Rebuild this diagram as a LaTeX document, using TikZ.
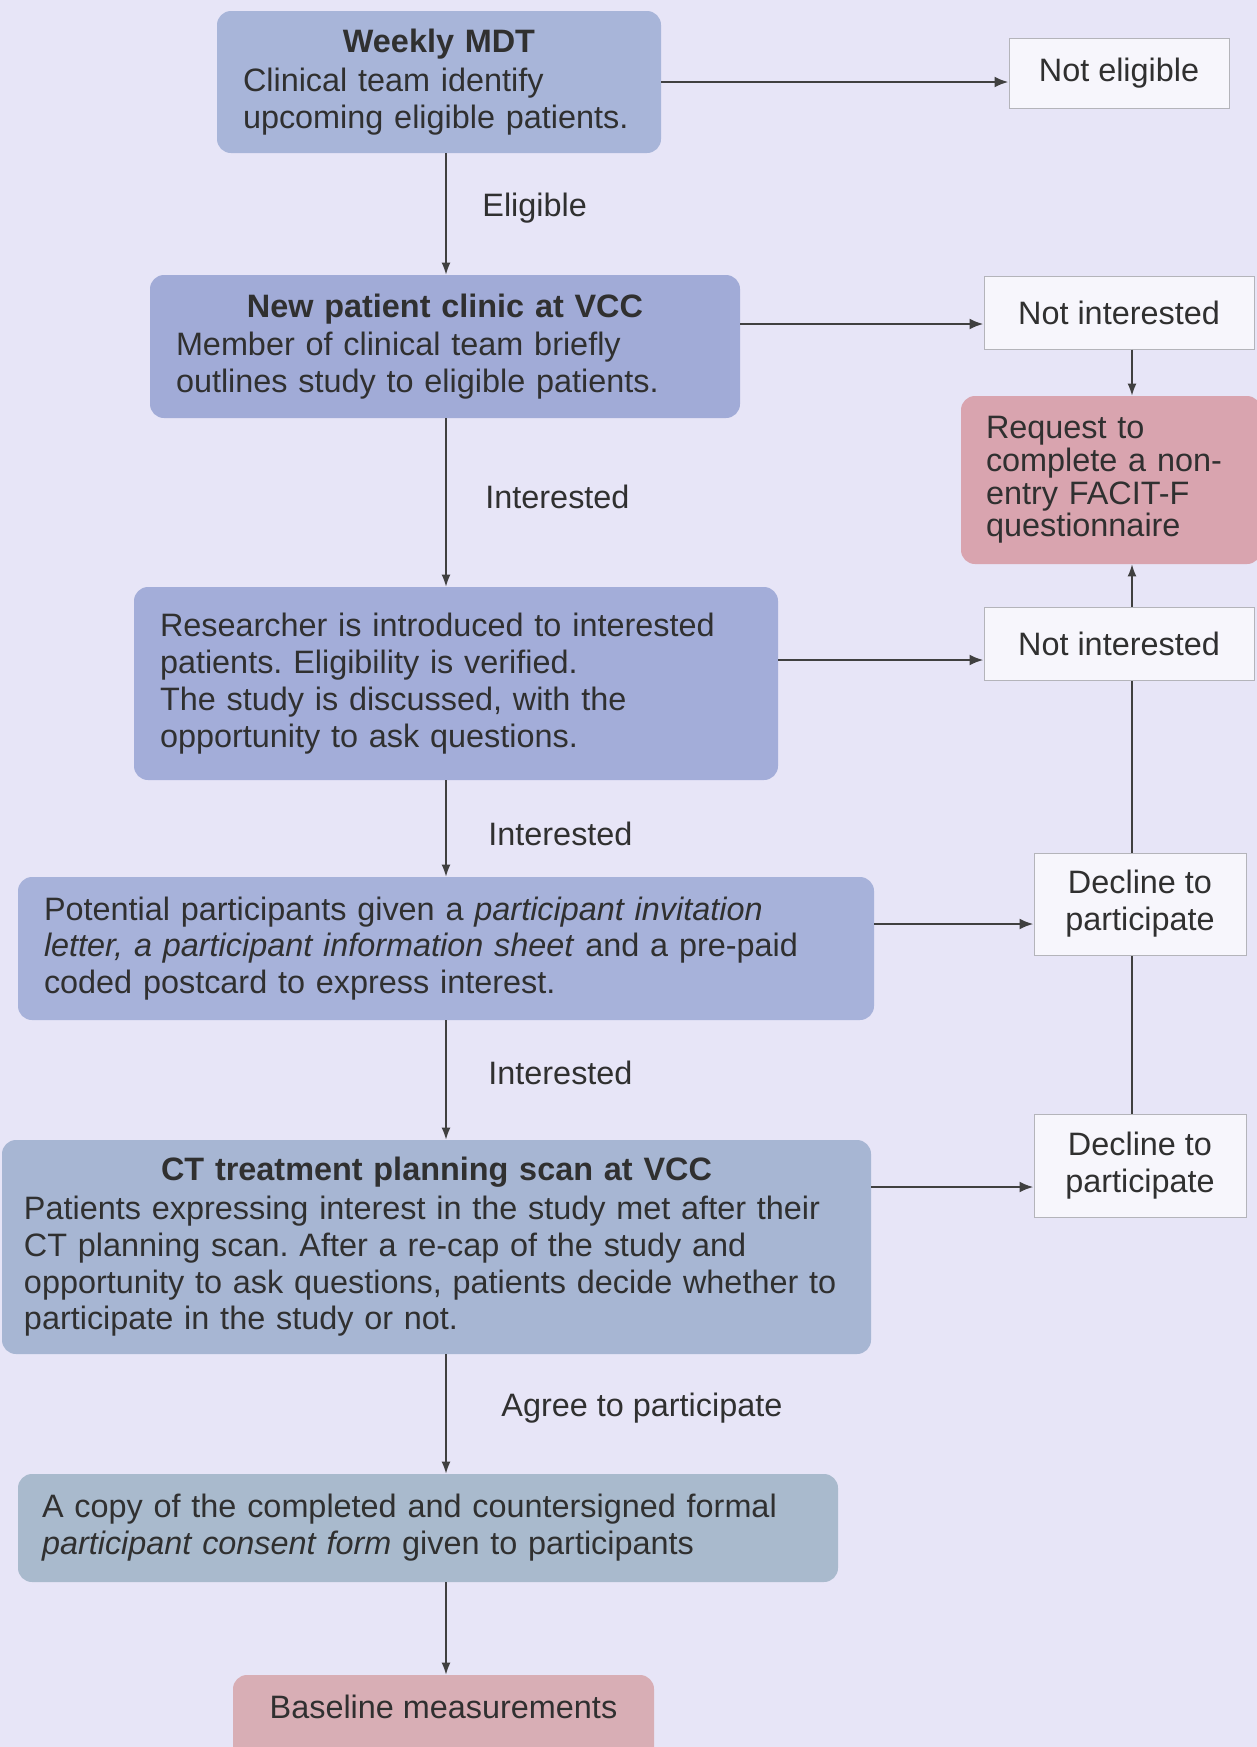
\documentclass[tikz,border=0pt]{standalone}
\usepackage{fontspec}
\setmainfont{Liberation Sans}
\usetikzlibrary{arrows.meta}
\frenchspacing
\definecolor{bgc}{HTML}{E7E5F7}
\definecolor{cA}{HTML}{A8B5D9}
\definecolor{cB}{HTML}{A1ABD7}
\definecolor{cC}{HTML}{A3ADD9}
\definecolor{cD}{HTML}{A7B2DA}
\definecolor{cE}{HTML}{A7B6D3}
\definecolor{cF}{HTML}{A9BACD}
\definecolor{creq}{HTML}{D9A4AF}
\definecolor{cbase}{HTML}{D8AEB5}
\definecolor{sidefill}{HTML}{F7F6FC}
\definecolor{sideline}{HTML}{B4B4BA}
\definecolor{txt}{HTML}{303030}
\definecolor{arr}{HTML}{404040}
\begin{document}
\begin{tikzpicture}[x=0.5pt,y=-0.5pt,
  every node/.style={text=txt, font=\fontsize{16.2}{18.4}\selectfont},
  mainbox/.style={rounded corners=7pt, inner xsep=13pt, inner ysep=0pt, align=left, anchor=center},
  sidebox/.style={fill=sidefill, draw=sideline, line width=0.5pt, inner sep=0pt, align=center},
  lbl/.style={anchor=west, inner sep=0pt},
  harr/.style={draw=arr, line width=1.2pt, -{Latex[length=7pt,width=5.5pt]}},
  varr/.style={draw=arr, line width=0.7pt, -{Latex[length=6pt,width=4.5pt]}},
  vline/.style={draw=arr, line width=0.7pt}
]
\fill[bgc] (0,0) rectangle (1257,1747);
\useasboundingbox (0,0) rectangle (1257,1747);

\coordinate (mainx) at (446,0);
\coordinate (sidex) at (1132,0);

% main column
\node[mainbox, fill=cA, minimum width=222pt, minimum height=71pt, text width=196pt] (b1) at (439,82)
  {\makebox[\hsize]{\bfseries Weekly MDT}\\[1pt] Clinical team identify\\ upcoming eligible patients.};
\node[mainbox, fill=cB, minimum width=295pt, minimum height=71.5pt, text width=269pt] (b2) at (445,346.5)
  {\makebox[\hsize]{\bfseries New patient clinic at VCC}\\[1pt] Member of clinical team briefly\\ outlines study to eligible patients.};
\node[mainbox, fill=cC, minimum width=322pt, minimum height=96.5pt, text width=296pt, inner xsep=13pt] (b3) at (456,683.5)
  {Researcher is introduced to interested\\ patients. Eligibility is verified.\\ The study is discussed, with the\\ opportunity to ask questions.};
\node[mainbox, fill=cD, minimum width=428pt, minimum height=71.5pt, text width=402pt] (b4) at (446,948.5)
  {Potential participants given a \textit{participant invitation}\\ \textit{letter, a participant information sheet} and a pre-paid\\ coded postcard to express interest.};
\node[mainbox, fill=cE, minimum width=434.5pt, minimum height=107pt, text width=412.5pt, inner xsep=11pt] (b5) at (436.5,1247)
  {\makebox[\hsize]{\bfseries CT treatment planning scan at VCC}\\[1pt] Patients expressing interest in the study met after their\\ CT planning scan. After a re-cap of the study and\\ opportunity to ask questions, patients decide whether to\\ participate in the study or not.};
\node[mainbox, fill=cF, minimum width=410pt, minimum height=54pt, text width=386pt, inner xsep=12pt] (b6) at (428,1528)
  {A copy of the completed and countersigned formal\\ \textit{participant consent form} given to participants};
\node[rounded corners=7pt, fill=cbase, minimum width=210.5pt, minimum height=50pt, inner sep=0pt,
  text height=11pt, text depth=17.6pt] (b7) at (443.5,1725) {Baseline measurements};

% side column
\node[sidebox, minimum width=110pt, minimum height=35pt] (ne) at (1119,73) {Not eligible};
\node[sidebox, minimum width=135pt, minimum height=36.5pt] (ni1) at (1119,312.5) {Not interested};
\node[rounded corners=7pt, fill=creq, minimum width=150pt, minimum height=84pt, inner xsep=12.5pt, inner ysep=0pt,
  text width=125pt, align=left, font=\fontsize{16.2}{16.4}\selectfont] (req) at (1111,480)
  {Request to\\ complete a non-\\ entry FACIT-F\\ questionnaire};
\node[sidebox, minimum width=135pt, minimum height=36.5pt] (ni2) at (1119,643.5) {Not interested};
\node[sidebox, minimum width=106pt, minimum height=51pt] (d1) at (1140,904) {Decline to\\ participate};
\node[sidebox, minimum width=106pt, minimum height=51.5pt] (d2) at (1140,1165.5) {Decline to\\ participate};

% vertical flow
\draw[varr] (b1.south -| mainx) -- (b2.north -| mainx);
\draw[varr] (b2.south -| mainx) -- (b3.north -| mainx);
\draw[varr] (b3.south -| mainx) -- (b4.north -| mainx);
\draw[varr] (b4.south -| mainx) -- (b5.north -| mainx);
\draw[varr] (b5.south -| mainx) -- (b6.north -| mainx);
\draw[varr] (b6.south -| mainx) -- (b7.north -| mainx);

\node[lbl] (l1) at (482,208) {Eligible};
\node[lbl] (l2) at (485,497) {Interested};
\node[lbl] (l3) at (488,834) {Interested};
\node[lbl] (l4) at (488,1073) {Interested};
\node[lbl] (l5) at (501,1408) {Agree to participate};

% horizontal arrows
\draw[harr] (b1.east) -- (b1.east -| ne.west);
\draw[harr] ([yshift=11.25pt]b2.east) -- ([yshift=11.25pt]b2.east -| ni1.west);
\draw[harr] ([yshift=11.75pt]b3.east) -- ([yshift=11.75pt]b3.east -| ni2.west);
\draw[harr] ([yshift=12.25pt]b4.east) -- ([yshift=12.25pt]b4.east -| d1.west);
\draw[harr] ([yshift=30pt]b5.east) -- ([yshift=30pt]b5.east -| d2.west);

% right column
\draw[varr] (ni1.south -| sidex) -- (req.north -| sidex);
\draw[varr] (ni2.north -| sidex) -- (req.south -| sidex);
\draw[vline] (d1.north -| sidex) -- (ni2.south -| sidex);
\draw[vline] (d2.north -| sidex) -- (d1.south -| sidex);
\end{tikzpicture}
\end{document}
